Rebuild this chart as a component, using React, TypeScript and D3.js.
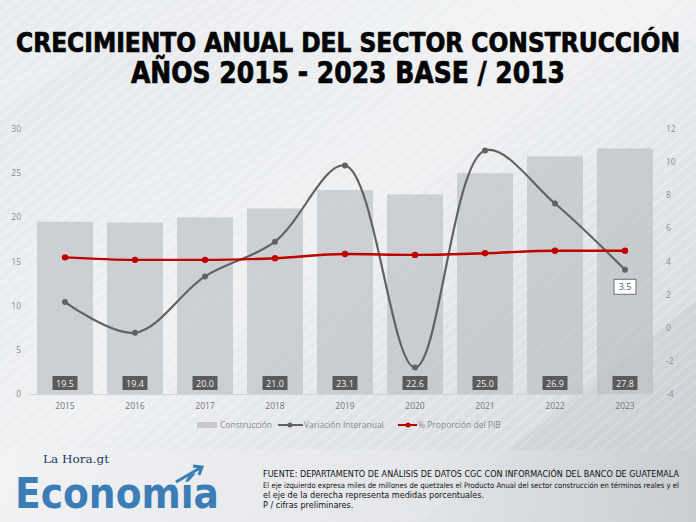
import { useMemo } from "react";
import * as d3 from "d3";

const years = ["2015", "2016", "2017", "2018", "2019", "2020", "2021", "2022", "2023"];
const construccion = [19.5, 19.4, 20.0, 21.0, 23.1, 22.6, 25.0, 26.9, 27.8];
const variacion = [1.55, -0.3, 3.1, 5.2, 9.8, -2.4, 10.7, 7.5, 3.5];
const proporcion = [4.25, 4.1, 4.1, 4.2, 4.45, 4.4, 4.5, 4.65, 4.65];
const leftTicks = [0, 5, 10, 15, 20, 25, 30];
const rightTicks = [-4, -2, 0, 2, 4, 6, 8, 10, 12];

const W = 696;
const H = 522;
const margin = { top: 129, right: 36, bottom: 128, left: 30 };

export default function App() {
  const innerBottom = H - margin.bottom;

  const scales = useMemo(() => {
    const x = d3
      .scaleBand<string>()
      .domain(years)
      .range([margin.left, W - margin.right])
      .paddingInner(0.2)
      .paddingOuter(0.1);
    const yL = d3.scaleLinear().domain([0, 30]).range([innerBottom, margin.top]);
    const yR = d3.scaleLinear().domain([-4, 12]).range([innerBottom, margin.top]);
    return { x, yL, yR };
  }, [innerBottom]);

  const { x, yL, yR } = scales;
  const cx = (y: string) => (x(y) ?? 0) + x.bandwidth() / 2;

  const varLine = d3
    .line<number>()
    .x((_, i) => cx(years[i]))
    .y(d => yR(d))
    .curve(d3.curveCatmullRom.alpha(0.5));

  const propLine = d3
    .line<number>()
    .x((_, i) => cx(years[i]))
    .y(d => yR(d))
    .curve(d3.curveMonotoneX);

  const axisFont = "'Open Sans', 'DejaVu Sans', sans-serif";

  return (
    <div style={{ position: "fixed", left: 0, top: 0, width: W, height: H }}>
      <svg width={W} height={H} style={{ display: "block" }}>
        <defs>
          <linearGradient id="bg" x1="0" y1="0" x2="1" y2="1">
            <stop offset="0" stopColor="#e4e7ea" />
            <stop offset="0.45" stopColor="#eef0f2" />
            <stop offset="0.75" stopColor="#dcdfe3" />
            <stop offset="1" stopColor="#cfd3d8" />
          </linearGradient>
          <pattern
            id="stripes"
            width="9"
            height="9"
            patternUnits="userSpaceOnUse"
            patternTransform="rotate(-40)"
          >
            <rect width="9" height="3" fill="#ffffff" opacity="0.35" />
          </pattern>
          <linearGradient id="foot" x1="0" y1="0" x2="1" y2="0">
            <stop offset="0" stopColor="#f1f2f4" />
            <stop offset="0.6" stopColor="#e6e8eb" />
            <stop offset="1" stopColor="#c9cdd2" />
          </linearGradient>
        </defs>

        <rect width={W} height={H} fill="url(#bg)" />
        <rect width={W} height={H} fill="url(#stripes)" opacity="0.6" />
        <path d="M0,110 L120,40 L696,40 L696,0 L0,0 Z" fill="#ffffff" opacity="0.18" />
        <path d="M420,522 L696,300 L696,522 Z" fill="#b9bec4" opacity="0.25" />
        <rect x={0} y={450} width={W} height={72} fill="url(#foot)" opacity="0.8" />

        {/* title */}
        <g
          fontFamily="'DejaVu Sans Condensed', 'DejaVu Sans', sans-serif"
          fontWeight="bold"
          fill="#050505"
          stroke="#050505"
          strokeWidth={0.7}
          textAnchor="middle"
        >
          <text x={348} y={52} fontSize={26} textLength={664} lengthAdjust="spacingAndGlyphs">
            CRECIMIENTO ANUAL DEL SECTOR CONSTRUCCIÓN
          </text>
          <text x={348} y={83} fontSize={30} textLength={434} lengthAdjust="spacingAndGlyphs">
            AÑOS 2015 - 2023 BASE / 2013
          </text>
        </g>

        {/* bars */}
        {construccion.map((v, i) => (
          <rect
            key={years[i]}
            x={x(years[i])}
            y={yL(v)}
            width={x.bandwidth()}
            height={innerBottom - yL(v)}
            fill="#b8babe"
            opacity={0.6}
          />
        ))}

        {/* baseline */}
        <line
          x1={margin.left}
          x2={W - margin.right}
          y1={innerBottom + 0.5}
          y2={innerBottom + 0.5}
          stroke="#d2d4d7"
          strokeWidth={1}
        />

        {/* left axis */}
        <g fontFamily={axisFont} fontSize={8.5} fill="#8c8c8c" textAnchor="end">
          {leftTicks.map(t => (
            <text key={t} x={21} y={yL(t) + 3}>
              {t}
            </text>
          ))}
        </g>
        {/* right axis */}
        <g fontFamily={axisFont} fontSize={8.5} fill="#8c8c8c" textAnchor="start">
          {rightTicks.map(t => (
            <text key={t} x={666} y={yR(t) + 3}>
              {t}
            </text>
          ))}
        </g>
        {/* x axis */}
        <g fontFamily={axisFont} fontSize={8.5} fill="#777" textAnchor="middle">
          {years.map(y => (
            <text key={y} x={cx(y)} y={innerBottom + 15}>
              {y}
            </text>
          ))}
        </g>

        {/* value labels for bars */}
        {construccion.map((v, i) => (
          <g key={"l" + i} transform={`translate(${cx(years[i])},${innerBottom - 11})`}>
            <rect x={-12.5} y={-7} width={25} height={14} fill="#5a5a5a" />
            <text
              y={3.5}
              textAnchor="middle"
              fontFamily={axisFont}
              fontSize={9}
              fill="#f2f2f2"
            >
              {v.toFixed(1)}
            </text>
          </g>
        ))}

        {/* variación interanual */}
        <path d={varLine(variacion) ?? ""} fill="none" stroke="#626262" strokeWidth={2.2} />
        {variacion.map((v, i) => (
          <circle key={"v" + i} cx={cx(years[i])} cy={yR(v)} r={3} fill="#626262" />
        ))}
        <g transform={`translate(${cx("2023")},${yR(3.5) + 17})`}>
          <rect x={-11} y={-7.5} width={22} height={15} fill="#fff" stroke="#6b6b6b" strokeWidth={1} />
          <text y={3.5} textAnchor="middle" fontFamily={axisFont} fontSize={9} fill="#555">
            3.5
          </text>
        </g>

        {/* % proporción del PIB */}
        <path d={propLine(proporcion) ?? ""} fill="none" stroke="#c00000" strokeWidth={2.4} />
        {proporcion.map((v, i) => (
          <circle key={"p" + i} cx={cx(years[i])} cy={yR(v)} r={3.2} fill="#c00000" />
        ))}

        {/* legend */}
        <g fontFamily={axisFont} fontSize={8.5} fill="#8a8a8a">
          <rect x={197} y={422} width={20} height={6} fill="#c6c8cb" />
          <text x={220} y={428}>Construcción</text>
          <line x1={278} x2={303} y1={425} y2={425} stroke="#626262" strokeWidth={2} />
          <circle cx={290} cy={425} r={2.5} fill="#626262" />
          <text x={304} y={428}>Variación Interanual</text>
          <line x1={398} x2={417} y1={425} y2={425} stroke="#c00000" strokeWidth={2} />
          <circle cx={408} cy={425} r={2.5} fill="#c00000" />
          <text x={418} y={428}>% Proporción del PIB</text>
        </g>

        {/* logo */}
        <g>
          <text
            x={43}
            y={463}
            fontFamily="'DejaVu Serif', 'Liberation Serif', serif"
            fontSize={11.5}
            fill="#1d3a5c"
            textLength={66}
            lengthAdjust="spacingAndGlyphs"
          >
            La Hora.gt
          </text>
          <text
            x={15}
            y={508}
            fontFamily="'DejaVu Sans Condensed', 'Liberation Sans Narrow', sans-serif"
            fontWeight="bold"
            fontSize={42}
            fill="#3c7db6"
            textLength={204}
            lengthAdjust="spacingAndGlyphs"
          >
            Economía
          </text>
          <path d="M176,482 L200,468 M193,466 L202,467 L199,475" fill="none" stroke="#3c7db6" strokeWidth={3} />
        </g>

        {/* footer text */}
        <g fontFamily="'Liberation Sans Narrow', 'DejaVu Sans Condensed', sans-serif" fill="#111">
          <text x={263} y={477} fontSize={9} textLength={416} lengthAdjust="spacingAndGlyphs">
            FUENTE: DEPARTAMENTO DE ANÁLISIS DE DATOS CGC CON INFORMACIÓN DEL BANCO DE GUATEMALA
          </text>
          <text x={263} y={488} fontSize={7.6} textLength={416} lengthAdjust="spacingAndGlyphs">
            El eje izquierdo expresa miles de millones de quetzales el Producto Anual del sector construcción en términos reales y el
          </text>
          <text x={263} y={498} fontSize={9}>el eje de la derecha representa medidas porcentuales.</text>
          <text x={263} y={508} fontSize={9}>P / cifras preliminares.</text>
        </g>
      </svg>
    </div>
  );
}
